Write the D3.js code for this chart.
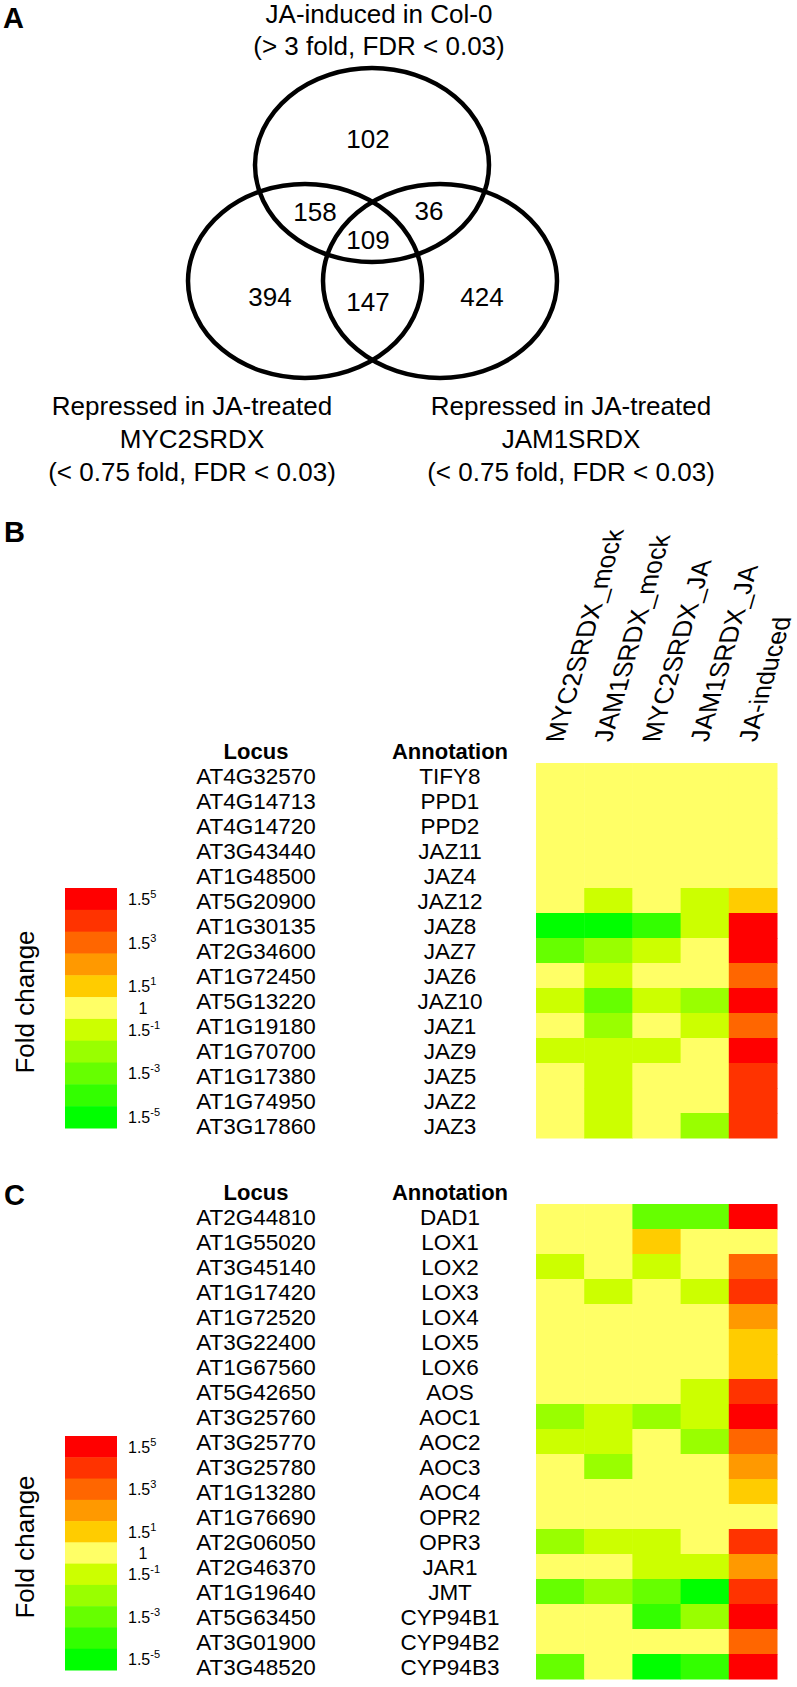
<!DOCTYPE html>
<html>
<head>
<meta charset="utf-8">
<script src="https://cdn.jsdelivr.net/npm/d3@7"></script>
<style>
  html, body { margin: 0; padding: 0; background: #fff; }
  svg { display: block; font-family: "Liberation Sans", Arial, Helvetica, sans-serif; }
</style>
</head>
<body>
<svg id="fig" width="797" height="1687"></svg>
<script>
// ---------------- DATA ----------------
// Panel A: Venn diagram
const vennSetLabels = [
  ["JA-induced in Col-0", "(> 3 fold, FDR < 0.03)"],
  ["Repressed in JA-treated", "MYC2SRDX", "(< 0.75 fold, FDR < 0.03)"],
  ["Repressed in JA-treated", "JAM1SRDX", "(< 0.75 fold, FDR < 0.03)"]
];
const vennRegions = ["JA only", "MYC2 only", "JAM1 only", "JA+MYC2", "JA+JAM1", "MYC2+JAM1", "all"];
const vennCounts   = [102, 394, 424, 158, 36, 147, 109];

// Heatmap columns
const conditions = ["MYC2SRDX_mock", "JAM1SRDX_mock", "MYC2SRDX_JA", "JAM1SRDX_JA", "JA-induced"];

// Panel B (values = exponent n of fold change 1.5^n)
const lociB = ["AT4G32570","AT4G14713","AT4G14720","AT3G43440","AT1G48500","AT5G20900","AT1G30135","AT2G34600","AT1G72450","AT5G13220","AT1G19180","AT1G70700","AT1G17380","AT1G74950","AT3G17860"];
const annotB = ["TIFY8","PPD1","PPD2","JAZ11","JAZ4","JAZ12","JAZ8","JAZ7","JAZ6","JAZ10","JAZ1","JAZ9","JAZ5","JAZ2","JAZ3"];
const valuesB = [
  [ 0,  0,  0,  0, 0],
  [ 0,  0,  0,  0, 0],
  [ 0,  0,  0,  0, 0],
  [ 0,  0,  0,  0, 0],
  [ 0,  0,  0,  0, 0],
  [ 0, -1,  0, -1, 1],
  [-5, -5, -4, -1, 5],
  [-3, -2, -1,  0, 5],
  [ 0, -1,  0,  0, 3],
  [-1, -3, -1, -2, 5],
  [ 0, -2,  0, -1, 3],
  [-1, -1, -1,  0, 5],
  [ 0, -1,  0,  0, 4],
  [ 0, -1,  0,  0, 4],
  [ 0, -1,  0, -2, 4]
];

// Panel C
const lociC = ["AT2G44810","AT1G55020","AT3G45140","AT1G17420","AT1G72520","AT3G22400","AT1G67560","AT5G42650","AT3G25760","AT3G25770","AT3G25780","AT1G13280","AT1G76690","AT2G06050","AT2G46370","AT1G19640","AT5G63450","AT3G01900","AT3G48520"];
const annotC = ["DAD1","LOX1","LOX2","LOX3","LOX4","LOX5","LOX6","AOS","AOC1","AOC2","AOC3","AOC4","OPR2","OPR3","JAR1","JMT","CYP94B1","CYP94B2","CYP94B3"];
const valuesC = [
  [ 0,  0, -3, -3, 5],
  [ 0,  0,  1,  0, 0],
  [-1,  0, -1,  0, 3],
  [ 0, -1,  0, -1, 4],
  [ 0,  0,  0,  0, 2],
  [ 0,  0,  0,  0, 1],
  [ 0,  0,  0,  0, 1],
  [ 0,  0,  0, -1, 4],
  [-2, -1, -2, -1, 5],
  [-1, -1,  0, -2, 3],
  [ 0, -2,  0,  0, 2],
  [ 0,  0,  0,  0, 1],
  [ 0,  0,  0,  0, 0],
  [-2, -1, -1,  0, 4],
  [ 0,  0, -1, -1, 2],
  [-3, -2, -3, -5, 4],
  [ 0,  0, -4, -2, 5],
  [ 0,  0,  0,  0, 3],
  [-3,  0, -5, -4, 5]
];

// Colour key
const levels = [5, 4, 3, 2, 1, 0, -1, -2, -3, -4, -5];
const levelColors = ["#ff0000","#ff3300","#ff6600","#ff9900","#ffcc00","#ffff66","#ccff00","#99ff00","#66ff00","#33ff00","#00ff00"];
const legendExps = [5, 3, 1, 0, -1, -3, -5];

// ---------------- DRAWING ----------------
const svg = d3.select("#fig");
const color = d3.scaleOrdinal(levels, levelColors);

function panelLetter(t, x, y) {
  svg.append("text").attr("x", x).attr("y", y).attr("font-size", 29)
    .attr("font-weight", "bold").text(t);
}

// ---- Panel A ----
panelLetter("A", 3, 28);
const ell = [
  { cx: 372, cy: 165, rx: 117, ry: 97 },
  { cx: 305, cy: 281, rx: 117, ry: 97 },
  { cx: 440, cy: 281, rx: 117, ry: 97 }
];
svg.append("g").selectAll("ellipse").data(ell).join("ellipse")
  .attr("cx", d => d.cx).attr("cy", d => d.cy)
  .attr("rx", d => d.rx).attr("ry", d => d.ry)
  .attr("fill", "none").attr("stroke", "#000").attr("stroke-width", 4.5);

const regionPos = {
  "JA only": [368, 148], "MYC2 only": [270, 306], "JAM1 only": [482, 306],
  "JA+MYC2": [315, 221], "JA+JAM1": [429, 220], "MYC2+JAM1": [368, 311], "all": [368, 249]
};
svg.append("g").selectAll("text").data(vennRegions).join("text")
  .attr("x", d => regionPos[d][0]).attr("y", d => regionPos[d][1])
  .attr("text-anchor", "middle").attr("font-size", 26)
  .text((d, i) => vennCounts[i]);

const labelAnchors = [
  { x: 379, y: 23 }, { x: 192, y: 415 }, { x: 571, y: 415 }
];
vennSetLabels.forEach((lines, i) => {
  svg.append("g").selectAll("text").data(lines).join("text")
    .attr("x", labelAnchors[i].x)
    .attr("y", (d, j) => labelAnchors[i].y + j * (i === 0 ? 32 : 33))
    .attr("text-anchor", "middle").attr("font-size", 26)
    .text(d => d);
});

// ---- Heatmap panels ----
const x = d3.scaleBand(conditions, [536, 777]);

function heatPanel(opts) {
  const { loci, annot, values, top, letter, letterY, headerCols, legTop, legBottom } = opts;
  panelLetter(letter, 4, letterY);
  const y = d3.scaleBand(d3.range(loci.length), [top, top + 25 * loci.length]);
  const g = svg.append("g");

  // header row
  g.append("text").attr("x", 256).attr("y", top - 4).attr("text-anchor", "middle")
    .attr("font-size", 22).attr("font-weight", "bold").text("Locus");
  g.append("text").attr("x", 450).attr("y", top - 4).attr("text-anchor", "middle")
    .attr("font-size", 22).attr("font-weight", "bold").text("Annotation");

  g.append("g").selectAll("text").data(loci).join("text")
    .attr("x", 256).attr("y", (d, i) => y(i) + y.bandwidth() / 2 + 8)
    .attr("text-anchor", "middle").attr("font-size", 22.5).text(d => d);
  g.append("g").selectAll("text").data(annot).join("text")
    .attr("x", 450).attr("y", (d, i) => y(i) + y.bandwidth() / 2 + 8)
    .attr("text-anchor", "middle").attr("font-size", 22.5).text(d => d);

  // cells
  const cells = [];
  values.forEach((row, i) => row.forEach((v, j) => cells.push({ i, c: conditions[j], v })));
  g.append("g").selectAll("rect").data(cells).join("rect")
    .attr("x", d => x(d.c)).attr("y", d => y(d.i))
    .attr("width", x.bandwidth() + 0.5).attr("height", y.bandwidth() + 0.5)
    .attr("fill", d => color(d.v));

  // column headers (slanted)
  if (headerCols) {
    const a = 74 * Math.PI / 180;
    g.append("g").selectAll("text").data(conditions).join("text")
      .attr("transform", d => `matrix(${Math.cos(a)},${-Math.sin(a)},1,0,${x(d) + x.bandwidth() / 2 + 3},742)`)
      .attr("font-size", 26).text(d => d);
  }

  // legend
  const ly = d3.scaleBand(levels, [legTop, legBottom]);
  const lg = svg.append("g");
  lg.selectAll("rect").data(levels).join("rect")
    .attr("x", 65).attr("y", d => ly(d)).attr("width", 52)
    .attr("height", ly.bandwidth() + 0.5).attr("fill", d => color(d));
  const lt = lg.selectAll("text.tick").data(legendExps).join("text").attr("class", "tick")
    .attr("font-size", 16)
    .attr("x", d => d === 0 ? 143 : 128)
    .attr("text-anchor", d => d === 0 ? "middle" : "start")
    .attr("y", d => ly(d) + ly.bandwidth() / 2 + 6);
  lt.each(function (d) {
    const t = d3.select(this);
    if (d === 0) { t.text("1"); return; }
    t.append("tspan").text("1.5");
    t.append("tspan").attr("font-size", 11).attr("dy", -7).text(d);
  });
  const mid = (legTop + legBottom) / 2 - 6;
  lg.append("text").attr("transform", `translate(34,${mid}) rotate(-90)`)
    .attr("text-anchor", "middle").attr("font-size", 26).text("Fold change");
}

heatPanel({ loci: lociB, annot: annotB, values: valuesB, top: 763, letter: "B", letterY: 542,
  headerCols: true, legTop: 888, legBottom: 1128 });
heatPanel({ loci: lociC, annot: annotC, values: valuesC, top: 1204, letter: "C", letterY: 1205,
  headerCols: false, legTop: 1436, legBottom: 1670 });
</script>
</body>
</html>
